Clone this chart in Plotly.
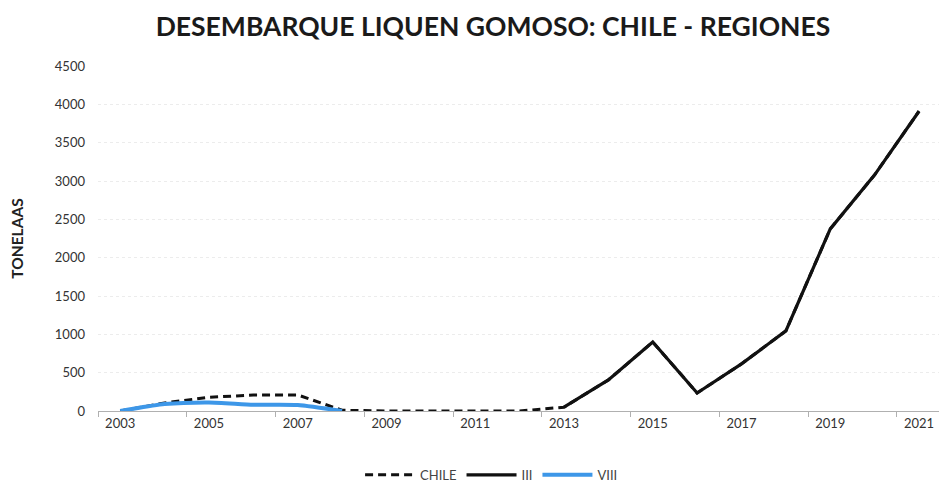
import plotly.graph_objects as go

years = list(range(2003, 2022))
chile = [0, 105, 180, 208, 210, 10, 0, 0, 0, 0, 50, 405, 900, 235, 615, 1045, 2375, 3080, 3910]
iii_years = list(range(2013, 2022))
iii = [50, 405, 900, 235, 615, 1045, 2375, 3080, 3910]
viii_years = list(range(2003, 2009))
viii = [0, 90, 112, 82, 78, 0]

title = "DESEMBARQUE LIQUEN GOMOSO: CHILE - REGIONES"
y_title = "TONELAAS"
x_ticks = list(range(2003, 2022, 2))
y_ticks = list(range(0, 4501, 500))

fig = go.Figure()
fig.add_trace(go.Scatter(x=years, y=chile, name="CHILE", mode="lines",
                         line=dict(color="#111111", width=3, dash="8px,5px")))
fig.add_trace(go.Scatter(x=iii_years, y=iii, name="III", mode="lines",
                         line=dict(color="#111111", width=3.2)))
fig.add_trace(go.Scatter(x=viii_years, y=viii, name="VIII", mode="lines",
                         line=dict(color="#3d97e8", width=4, shape="spline", smoothing=0.6)))

fig.update_layout(
    width=939, height=485,
    paper_bgcolor="white", plot_bgcolor="white",
    margin=dict(l=98, r=0, t=66, b=74, autoexpand=False),
    font=dict(family="Lato, Open Sans, sans-serif", color="#333333", size=13),
    title=dict(text="<b>" + title + "</b>", x=0.525, xanchor="center", y=0.945, yanchor="middle",
               font=dict(family="Lato, Open Sans, sans-serif", size=26.5, color="#1a1a1a")),
    showlegend=True,
    legend=dict(orientation="h", x=0.468, xanchor="center", y=-0.185, yanchor="middle",
                font=dict(size=13, color="#444444"), itemwidth=50),
    xaxis=dict(range=[2002.5, 2021.45], tickvals=x_ticks, ticktext=[str(v) for v in x_ticks],
               showgrid=False, zeroline=False, showline=True, linecolor="#b0b0b0", linewidth=1,
               ticks="", tickfont=dict(size=13, color="#333333"), automargin=False,
               minor=dict(ticks="outside", tick0=2002.5, dtick=2, ticklen=5, tickcolor="#b0b0b0", showgrid=False)),
    yaxis=dict(range=[0, 4500], tickvals=y_ticks, showgrid=True, gridcolor="#ececec", griddash="dot",
               zeroline=False, showline=False, ticks="", tickfont=dict(size=13, color="#333333"),
               ticklabelstandoff=12, automargin=False,
               title=dict(text="<b>" + y_title + "</b>", font=dict(size=15.5, color="#222222"), standoff=27)),
)

fig.write_html("out.html", config={"displayModeBar": False},
               post_script="document.body.style.margin='0';document.body.style.padding='0';")
